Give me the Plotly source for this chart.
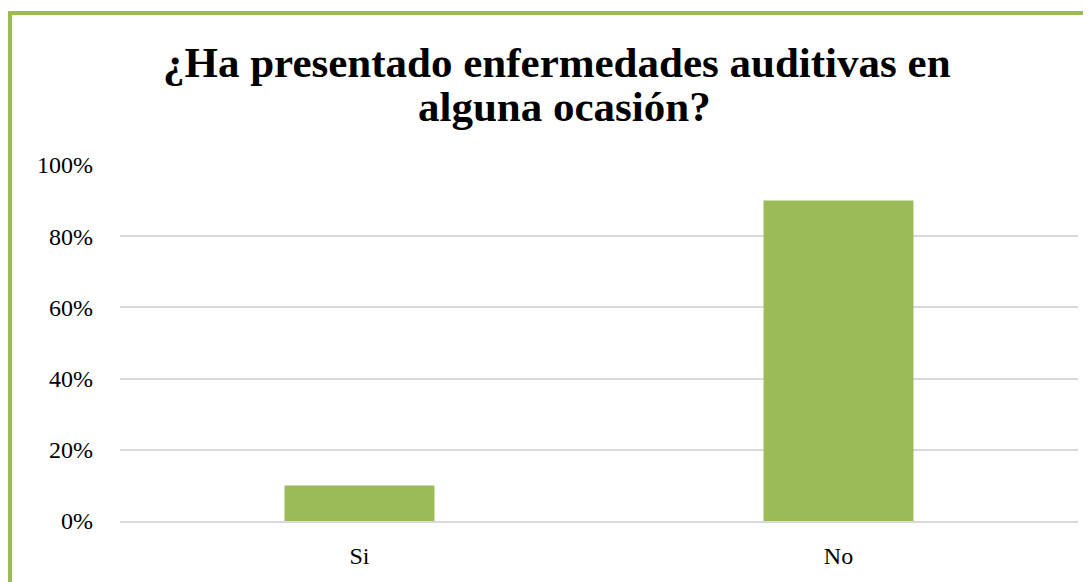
import plotly.graph_objects as go

# Data
categories = ["Si", "No"]
values = [0.10, 0.90]
title_lines = ["¿Ha presentado enfermedades auditivas en", "alguna ocasión?"]

bar_color = "#9BBB59"
serif = "Liberation Serif, Times New Roman, serif"

fig = go.Figure(go.Bar(
    x=categories,
    y=values,
    marker=dict(color=bar_color, line=dict(width=0)),
))

# green outer frame (cropped on right / bottom in the original)
fig.add_shape(type="line", xref="paper", yref="paper",
              x0=-0.1148, x1=-0.1148, y0=1.427, y1=-0.4,
              line=dict(color=bar_color, width=4))
fig.add_shape(type="line", xref="paper", yref="paper",
              x0=-0.1169, x1=1.2, y0=1.427, y1=1.427,
              line=dict(color=bar_color, width=4))

# title as two annotations so the line spacing stays tight
for txt, ypos, xpos in [(title_lines[0], 1.288, 0.456), (title_lines[1], 1.163, 0.4645)]:
    fig.add_annotation(
        text="<b>" + txt + "</b>", xref="paper", yref="paper",
        x=xpos, y=ypos, xanchor="center", yanchor="middle",
        showarrow=False, font=dict(family=serif, size=43, color="#000000"),
    )

# page body has an 8px margin, so the figure is a bit smaller than the window
fig.update_layout(
    width=1083, height=574,
    margin=dict(l=112, r=13, t=157, b=61),
    paper_bgcolor="white", plot_bgcolor="white",
    bargap=0.687,
    showlegend=False,
    font=dict(family=serif, color="#000000", size=24),
)

fig.update_yaxes(
    range=[0, 1], tickvals=[0, 0.2, 0.4, 0.6, 0.8, 1.0], tickformat=".0%",
    showgrid=True, gridcolor="#D9D9D9", gridwidth=1.5,
    zeroline=False, showline=False, ticklabelstandoff=26,
)
fig.update_xaxes(
    showline=True, linecolor="#D9D9D9", linewidth=1.5,
    showgrid=False, ticklabelstandoff=12,
)

fig.write_html("out.html")
